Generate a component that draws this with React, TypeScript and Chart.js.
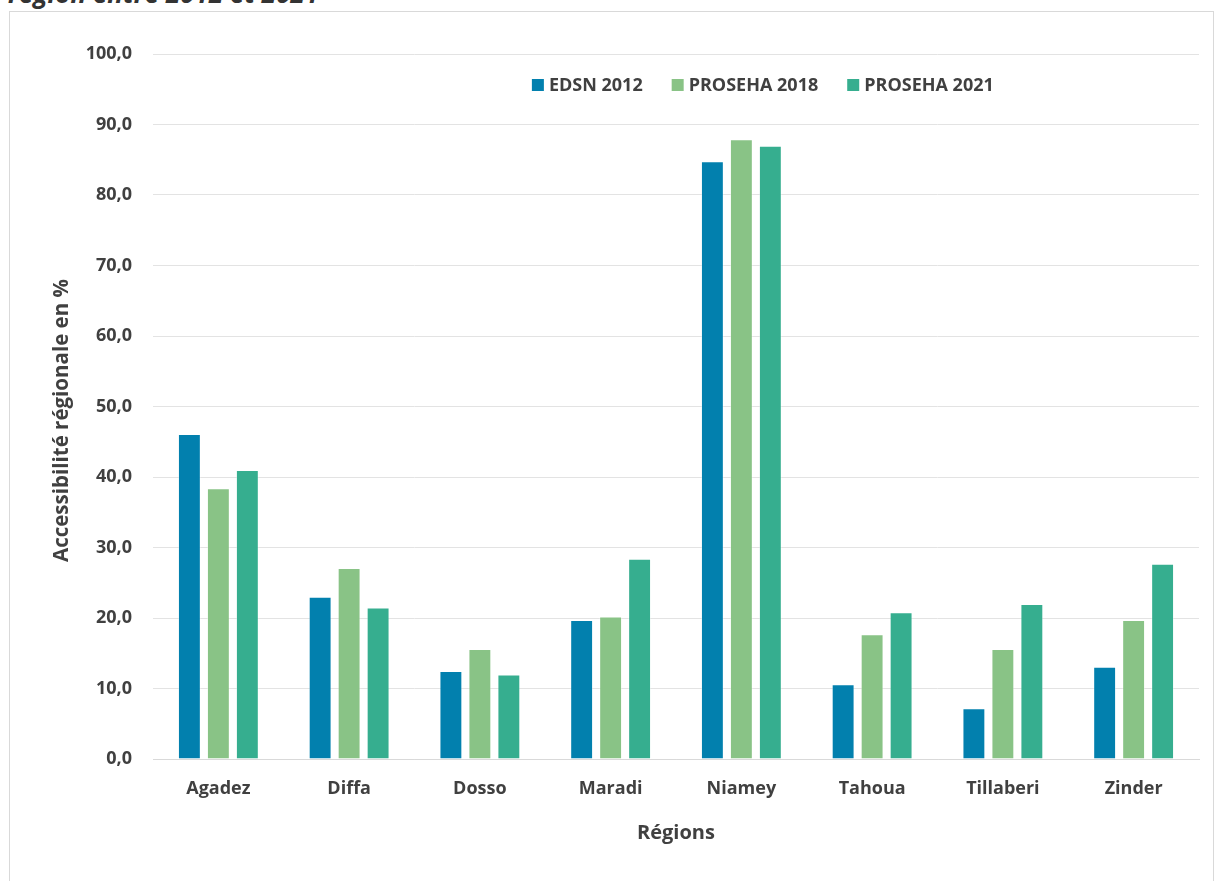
import { useEffect, useRef } from "react";
import { Chart, registerables } from "chart.js";

Chart.register(...registerables);

// Regions on the x axis
const regions = ["Agadez", "Diffa", "Dosso", "Maradi", "Niamey", "Tahoua", "Tillaberi", "Zinder"];

// Regional accessibility (%) per survey
const edsn2012 = [46.1, 23.0, 12.5, 19.7, 84.8, 10.6, 7.2, 13.1];
const proseha2018 = [38.4, 27.1, 15.6, 20.2, 87.9, 17.7, 15.6, 19.7];
const proseha2021 = [41.0, 21.5, 12.0, 28.4, 87.0, 20.8, 22.0, 27.7];

const seriesLabels = ["EDSN 2012", "PROSEHA 2018", "PROSEHA 2021"];
const seriesColors = ["#0280AE", "#89C386", "#36AE8F"];

const yTitle = "Accessibilité régionale en %";
const xTitle = "Régions";
const heading = "région entre 2012 et 2021";

const FONT = "'Open Sans', 'DejaVu Sans', sans-serif";
const TEXT = "#404040";

// Legend drawn inside the plot area, near the top
const insideLegend = {
  id: "insideLegend",
  afterDraw(chart: any) {
    const { ctx, chartArea } = chart;
    const box = 12;
    const gap = 5;
    const spacing = 29;
    ctx.save();
    ctx.font = `bold 18px ${FONT}`;
    const items = chart.data.datasets.map((d: any) => ({
      label: d.label,
      color: d.backgroundColor,
      w: ctx.measureText(d.label).width,
    }));
    const total = items.reduce((s: number, it: any) => s + box + gap + it.w, 0) + spacing * (items.length - 1);
    const cx = chartArea.left + (chartArea.right - chartArea.left) * 0.583;
    const cy = chartArea.top + 31;
    let x = cx - total / 2;
    ctx.textBaseline = "middle";
    ctx.textAlign = "left";
    for (const it of items) {
      ctx.fillStyle = it.color;
      ctx.fillRect(x, cy - box / 2, box, box);
      x += box + gap;
      ctx.fillStyle = TEXT;
      ctx.fillText(it.label, x, cy + 1);
      x += it.w + spacing;
    }
    ctx.restore();
  },
};

// Vertical y-axis title, set a little below the plot's middle
const yAxisTitle = {
  id: "yAxisTitle",
  afterDraw(chart: any) {
    const { ctx, chartArea } = chart;
    ctx.save();
    ctx.font = `bold 20.5px ${FONT}`;
    ctx.fillStyle = TEXT;
    ctx.textAlign = "center";
    ctx.textBaseline = "middle";
    ctx.translate(52, (chartArea.top + chartArea.bottom) / 2 + 14);
    ctx.rotate(-Math.PI / 2);
    ctx.fillText(yTitle, 0, 0);
    ctx.restore();
  },
};

export default function App() {
  const canvasRef = useRef<HTMLCanvasElement | null>(null);

  useEffect(() => {
    if (!canvasRef.current) return;
    const series = [edsn2012, proseha2018, proseha2021];
    const chart = new Chart(canvasRef.current, {
      type: "bar",
      data: {
        labels: regions,
        datasets: series.map((values, i) => ({
          label: seriesLabels[i],
          data: values,
          backgroundColor: seriesColors[i],
          borderColor: "rgba(255,255,255,0.35)",
          borderWidth: 1,
          categoryPercentage: 0.665,
          barPercentage: 0.79,
        })),
      },
      options: {
        animation: false,
        responsive: false,
        maintainAspectRatio: false,
        layout: { padding: { left: 30, right: 14, top: 42, bottom: 51 } },
        plugins: {
          legend: { display: false },
          tooltip: { enabled: false },
        },
        scales: {
          x: {
            grid: { display: false },
            border: { display: true, color: "#d9d9d9" },
            ticks: {
              color: TEXT,
              font: { family: FONT, size: 18, weight: "bold" },
              padding: 11,
            },
            title: {
              display: true,
              text: xTitle,
              color: TEXT,
              font: { family: FONT, size: 20, weight: "bold" },
              padding: { top: 0, bottom: 14 },
            },
            afterFit(scale: any) {
              scale.height = 100;
            },
          },
          y: {
            min: 0,
            max: 100,
            grid: { color: "#e3e3e3", lineWidth: 1, drawTicks: false },
            border: { display: false },
            ticks: {
              stepSize: 10,
              color: TEXT,
              font: { family: FONT, size: 18, weight: "bold" },
              padding: 21,
              callback: (v: any) => Number(v).toFixed(1).replace(".", ","),
            },
            title: { display: false },
            afterFit(scale: any) {
              scale.width = 113;
            },
          },
        },
      },
      plugins: [insideLegend, yAxisTitle],
    });
    return () => chart.destroy();
  }, []);

  return (
    <div
      style={{
        position: "fixed",
        left: 0,
        top: 0,
        width: "100vw",
        height: "100vh",
        overflow: "hidden",
        background: "#fff",
      }}
    >
      <div
        style={{
          position: "absolute",
          left: 8,
          top: -22,
          fontFamily: FONT,
          fontSize: 26,
          fontWeight: "bold",
          fontStyle: "italic",
          lineHeight: "30px",
          color: "#333",
          whiteSpace: "nowrap",
        }}
      >
        {heading}
      </div>
      <div
        style={{
          position: "absolute",
          left: 9,
          top: 11,
          width: 1205,
          height: 900,
          boxSizing: "border-box",
          border: "1px solid #d9d9d9",
          background: "#fff",
        }}
      >
        <canvas ref={canvasRef} width={1203} height={898} style={{ display: "block" }} />
      </div>
    </div>
  );
}
